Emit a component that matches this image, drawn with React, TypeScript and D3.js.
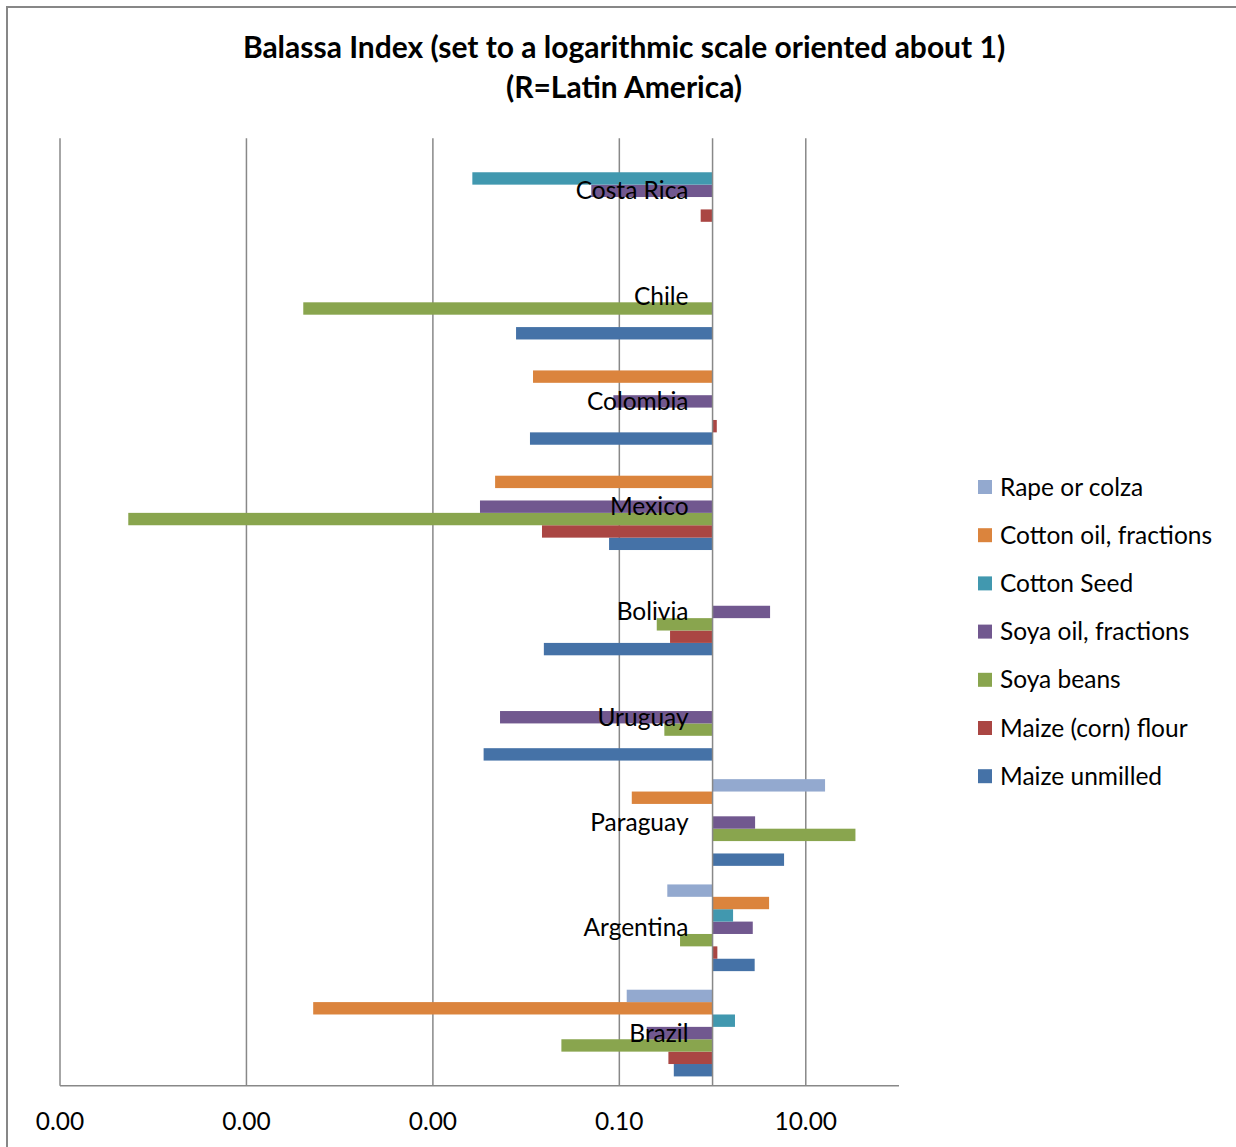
import React from "react";
import * as d3 from "d3";

// Countries, bottom to top as they sit on the category axis
const categories = ["Brazil", "Argentina", "Paraguay", "Uruguay", "Bolivia", "Mexico", "Colombia", "Chile", "Costa Rica"];

// Balassa index per product, in category order (null = no value)
const maizeUnmilled = [0.384, 2.83, 5.85, 0.0035, 0.0155, 0.0776, 0.011, 0.0078, null];
const maizeFlour = [0.336, 1.126, null, null, 0.35, 0.0148, 1.11, null, 0.746];
const soyaBeans = [0.0239, 0.448, 34.1, 0.304, 0.252, 5.4e-7, null, 4.07e-5, null];
const soyaOil = [0.197, 2.7, 2.86, 0.00525, 4.14, 0.0032, 0.0863, null, 0.05];
const cottonSeed = [1.74, 1.66, null, null, null, null, null, null, 0.00265];
const cottonOil = [5.2e-5, 4.04, 0.136, null, null, 0.00465, 0.01186, null, null];
const rapeColza = [0.12, 0.327, 16.1, null, null, null, null, null, null];

const seriesNames = ["Maize unmilled", "Maize (corn) flour", "Soya beans", "Soya oil, fractions", "Cotton Seed", "Cotton oil, fractions", "Rape or colza"];
const seriesValues = [maizeUnmilled, maizeFlour, soyaBeans, soyaOil, cottonSeed, cottonOil, rapeColza];
const seriesColors = ["#4572A7", "#AA4643", "#89A54E", "#71588F", "#4198AF", "#DB843D", "#93A9CF"];

const tickValues = [1e-7, 1e-5, 1e-3, 1e-1, 10];
const tickLabels = ["0.00", "0.00", "0.00", "0.10", "10.00"];

const titleLines = ["Balassa Index (set to a logarithmic scale oriented about 1)", "(R=Latin America)"];

const FONT = "Lato, 'Open Sans', sans-serif";
const LABEL_SIZE = 24.5;

export default function App() {
  const W = 1236;
  const H = 1147;
  const plot = { left: 60, right: 899, top: 138.2, bottom: 1085.7 };

  const x = d3.scaleLog().domain([1e-7, 100]).range([plot.left, plot.right]);
  const x1 = x(1);

  // Top of the chart holds the last category
  const y = d3
    .scaleBand<string>()
    .domain([...categories].reverse())
    .range([plot.top, plot.bottom])
    .paddingInner(0)
    .paddingOuter(0);

  // Within a group the first series sits at the bottom
  const inner = d3
    .scaleBand<string>()
    .domain([...seriesNames].reverse())
    .range([0, y.bandwidth()])
    .paddingInner(0)
    .paddingOuter(0.75);

  const legendOrder = [...seriesNames.keys()].reverse();

  return (
    <div style={{ position: "absolute", left: 0, top: 0 }}>
      <svg width={W} height={H} style={{ display: "block", background: "#fff" }}>
        <rect x={7} y={7} width={W + 20} height={H + 20} fill="#fff" stroke="#878787" strokeWidth={2} />

        {titleLines.map((t, i) => (
          <text
            key={t}
            x={624}
            y={58 + i * 40}
            textAnchor="middle"
            fontFamily={FONT}
            fontWeight="bold"
            fontSize={30}
            fill="#000"
          >
            {t}
          </text>
        ))}

        {/* vertical gridlines */}
        {tickValues.map((v) => (
          <line key={v} x1={x(v)} x2={x(v)} y1={plot.top} y2={plot.bottom} stroke="#888" strokeWidth={1.5} />
        ))}

        {/* bars */}
        {seriesValues.map((vals, si) =>
          vals.map((v, ci) => {
            if (v == null) return null;
            const xv = x(v);
            const yy = (y(categories[ci]) ?? 0) + (inner(seriesNames[si]) ?? 0);
            return (
              <rect
                key={`${si}-${ci}`}
                x={Math.min(xv, x1)}
                y={yy}
                width={Math.abs(xv - x1)}
                height={inner.bandwidth()}
                fill={seriesColors[si]}
              />
            );
          })
        )}

        {/* category axis crossing at 1 */}
        <line x1={x1} x2={x1} y1={plot.top} y2={plot.bottom} stroke="#888" strokeWidth={1.5} />
        {/* value axis */}
        <line x1={plot.left} x2={plot.right} y1={plot.bottom} y2={plot.bottom} stroke="#888" strokeWidth={1.5} />

        {/* category labels */}
        {categories.map((c) => (
          <text
            key={c}
            x={x1 - 24}
            y={(y(c) ?? 0) + y.bandwidth() / 2 + 8.5}
            textAnchor="end"
            fontFamily={FONT}
            fontSize={LABEL_SIZE}
            fill="#000"
          >
            {c}
          </text>
        ))}

        {/* tick labels */}
        {tickValues.map((v, i) => (
          <text key={v} x={x(v)} y={1130} textAnchor="middle" fontFamily={FONT} fontSize={LABEL_SIZE} fill="#000">
            {tickLabels[i]}
          </text>
        ))}

        {/* legend */}
        {legendOrder.map((si, i) => {
          const cy = 487 + i * 48.2;
          return (
            <g key={seriesNames[si]}>
              <rect x={978} y={cy - 7} width={14} height={14} fill={seriesColors[si]} />
              <text x={1000} y={cy + 8.5} fontFamily={FONT} fontSize={LABEL_SIZE} fill="#000">
                {seriesNames[si]}
              </text>
            </g>
          );
        })}
      </svg>
    </div>
  );
}
